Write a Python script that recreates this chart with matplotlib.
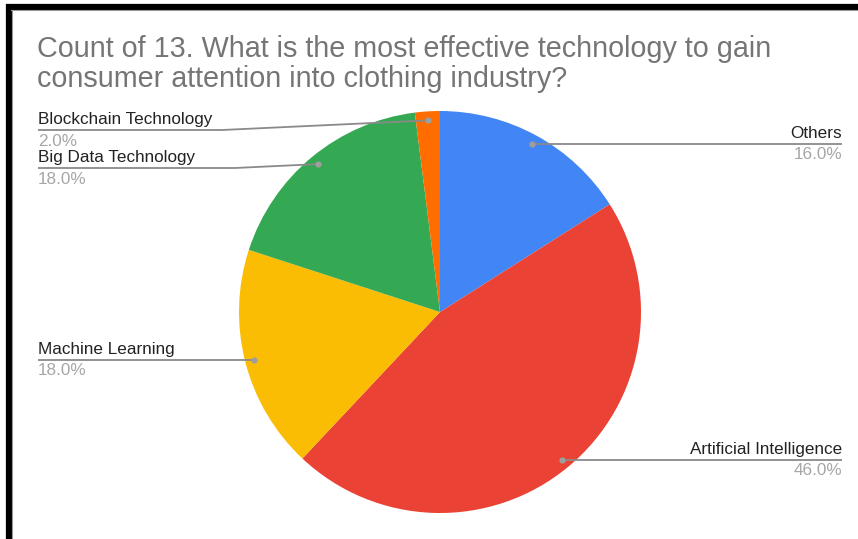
import matplotlib.pyplot as plt
import numpy as np

plt.rcParams["font.family"] = ["Liberation Sans", "DejaVu Sans"]

# survey answers, in clockwise order from 12 o'clock
labels = ["Others", "Artificial Intelligence", "Machine Learning",
          "Big Data Technology", "Blockchain Technology"]
counts = [8, 23, 9, 9, 1]
colors = ["#4285F4", "#EA4335", "#FBBC04", "#34A853", "#FF6D01"]

title_lines = ["Count of 13. What is the most effective technology to gain",
               "consumer attention into clothing industry?"]

W, H = 858, 539
fig = plt.figure(figsize=(W / 100, H / 100), dpi=100)
ax = fig.add_axes([0, 0, 1, 1])


def py(y):
    # pixel rows from the top -> data y
    return H - y


cx, cy, R = 440, py(312), 201
wedges, _ = ax.pie(counts, colors=colors, startangle=90, counterclock=False,
                   radius=R, center=(cx, cy), frame=True,
                   wedgeprops=dict(linewidth=0))
ax.set_xlim(0, W)
ax.set_ylim(0, H)
ax.set_aspect("equal")
ax.axis("off")

total = sum(counts)
pcts = [c / total * 100 for c in counts]

# leader line layout: side, line row (None = level with the dot), elbow x
layout = {
    "Others": ("right", None, None),
    "Artificial Intelligence": ("right", None, None),
    "Machine Learning": ("left", None, None),
    "Big Data Technology": ("left", 168, 235),
    "Blockchain Technology": ("left", 130, 222),
}

line_col = "#8a8a8a"
fs = 12.3
for w, name, pct in zip(wedges, labels, pcts):
    mid = np.deg2rad((w.theta1 + w.theta2) / 2)
    dx = cx + 0.955 * R * np.cos(mid)
    dy = cy + 0.955 * R * np.sin(mid)
    side, row, elbow = layout[name]
    ly = dy if row is None else py(row)
    if side == "right":
        xs, ys = [dx, 842], [ly, ly]
        tx, ha = 842, "right"
    else:
        if elbow is None:
            xs, ys = [38, dx], [ly, ly]
        else:
            xs, ys = [38, elbow, dx], [ly, ly, dy]
        tx, ha = 38, "left"
    ax.plot(xs, ys, color=line_col, lw=1.3, solid_capstyle="butt", zorder=3)
    ax.plot(dx, dy, "o", ms=4.5, color="#9e9e9e", mec="none", zorder=4)
    ax.text(tx, ly + 6, name, ha=ha, va="baseline", fontsize=fs,
            color="#222222")
    ax.text(tx, ly - 15.5, f"{pct:.1f}%", ha=ha, va="baseline", fontsize=fs,
            color="#a6a6a6")

for i, line in enumerate(title_lines):
    ax.text(37, py(57 + 30 * i), line, ha="left", va="baseline",
            fontsize=20.7, color="#757575")

# black frame on top and left edges
ax.plot([6, W], [py(6.5), py(6.5)], color="black", lw=4.5,
        solid_capstyle="butt")
ax.plot([8.5, 8.5], [0, py(4)], color="black", lw=4.5, solid_capstyle="butt")
ax.plot([11, W], [py(9.5), py(9.5)], color="#9a9a9a", lw=0.8)
ax.plot([11.5, 11.5], [0, py(9.5)], color="#9a9a9a", lw=0.8)

fig.savefig("out.png", dpi=100, facecolor="white")
